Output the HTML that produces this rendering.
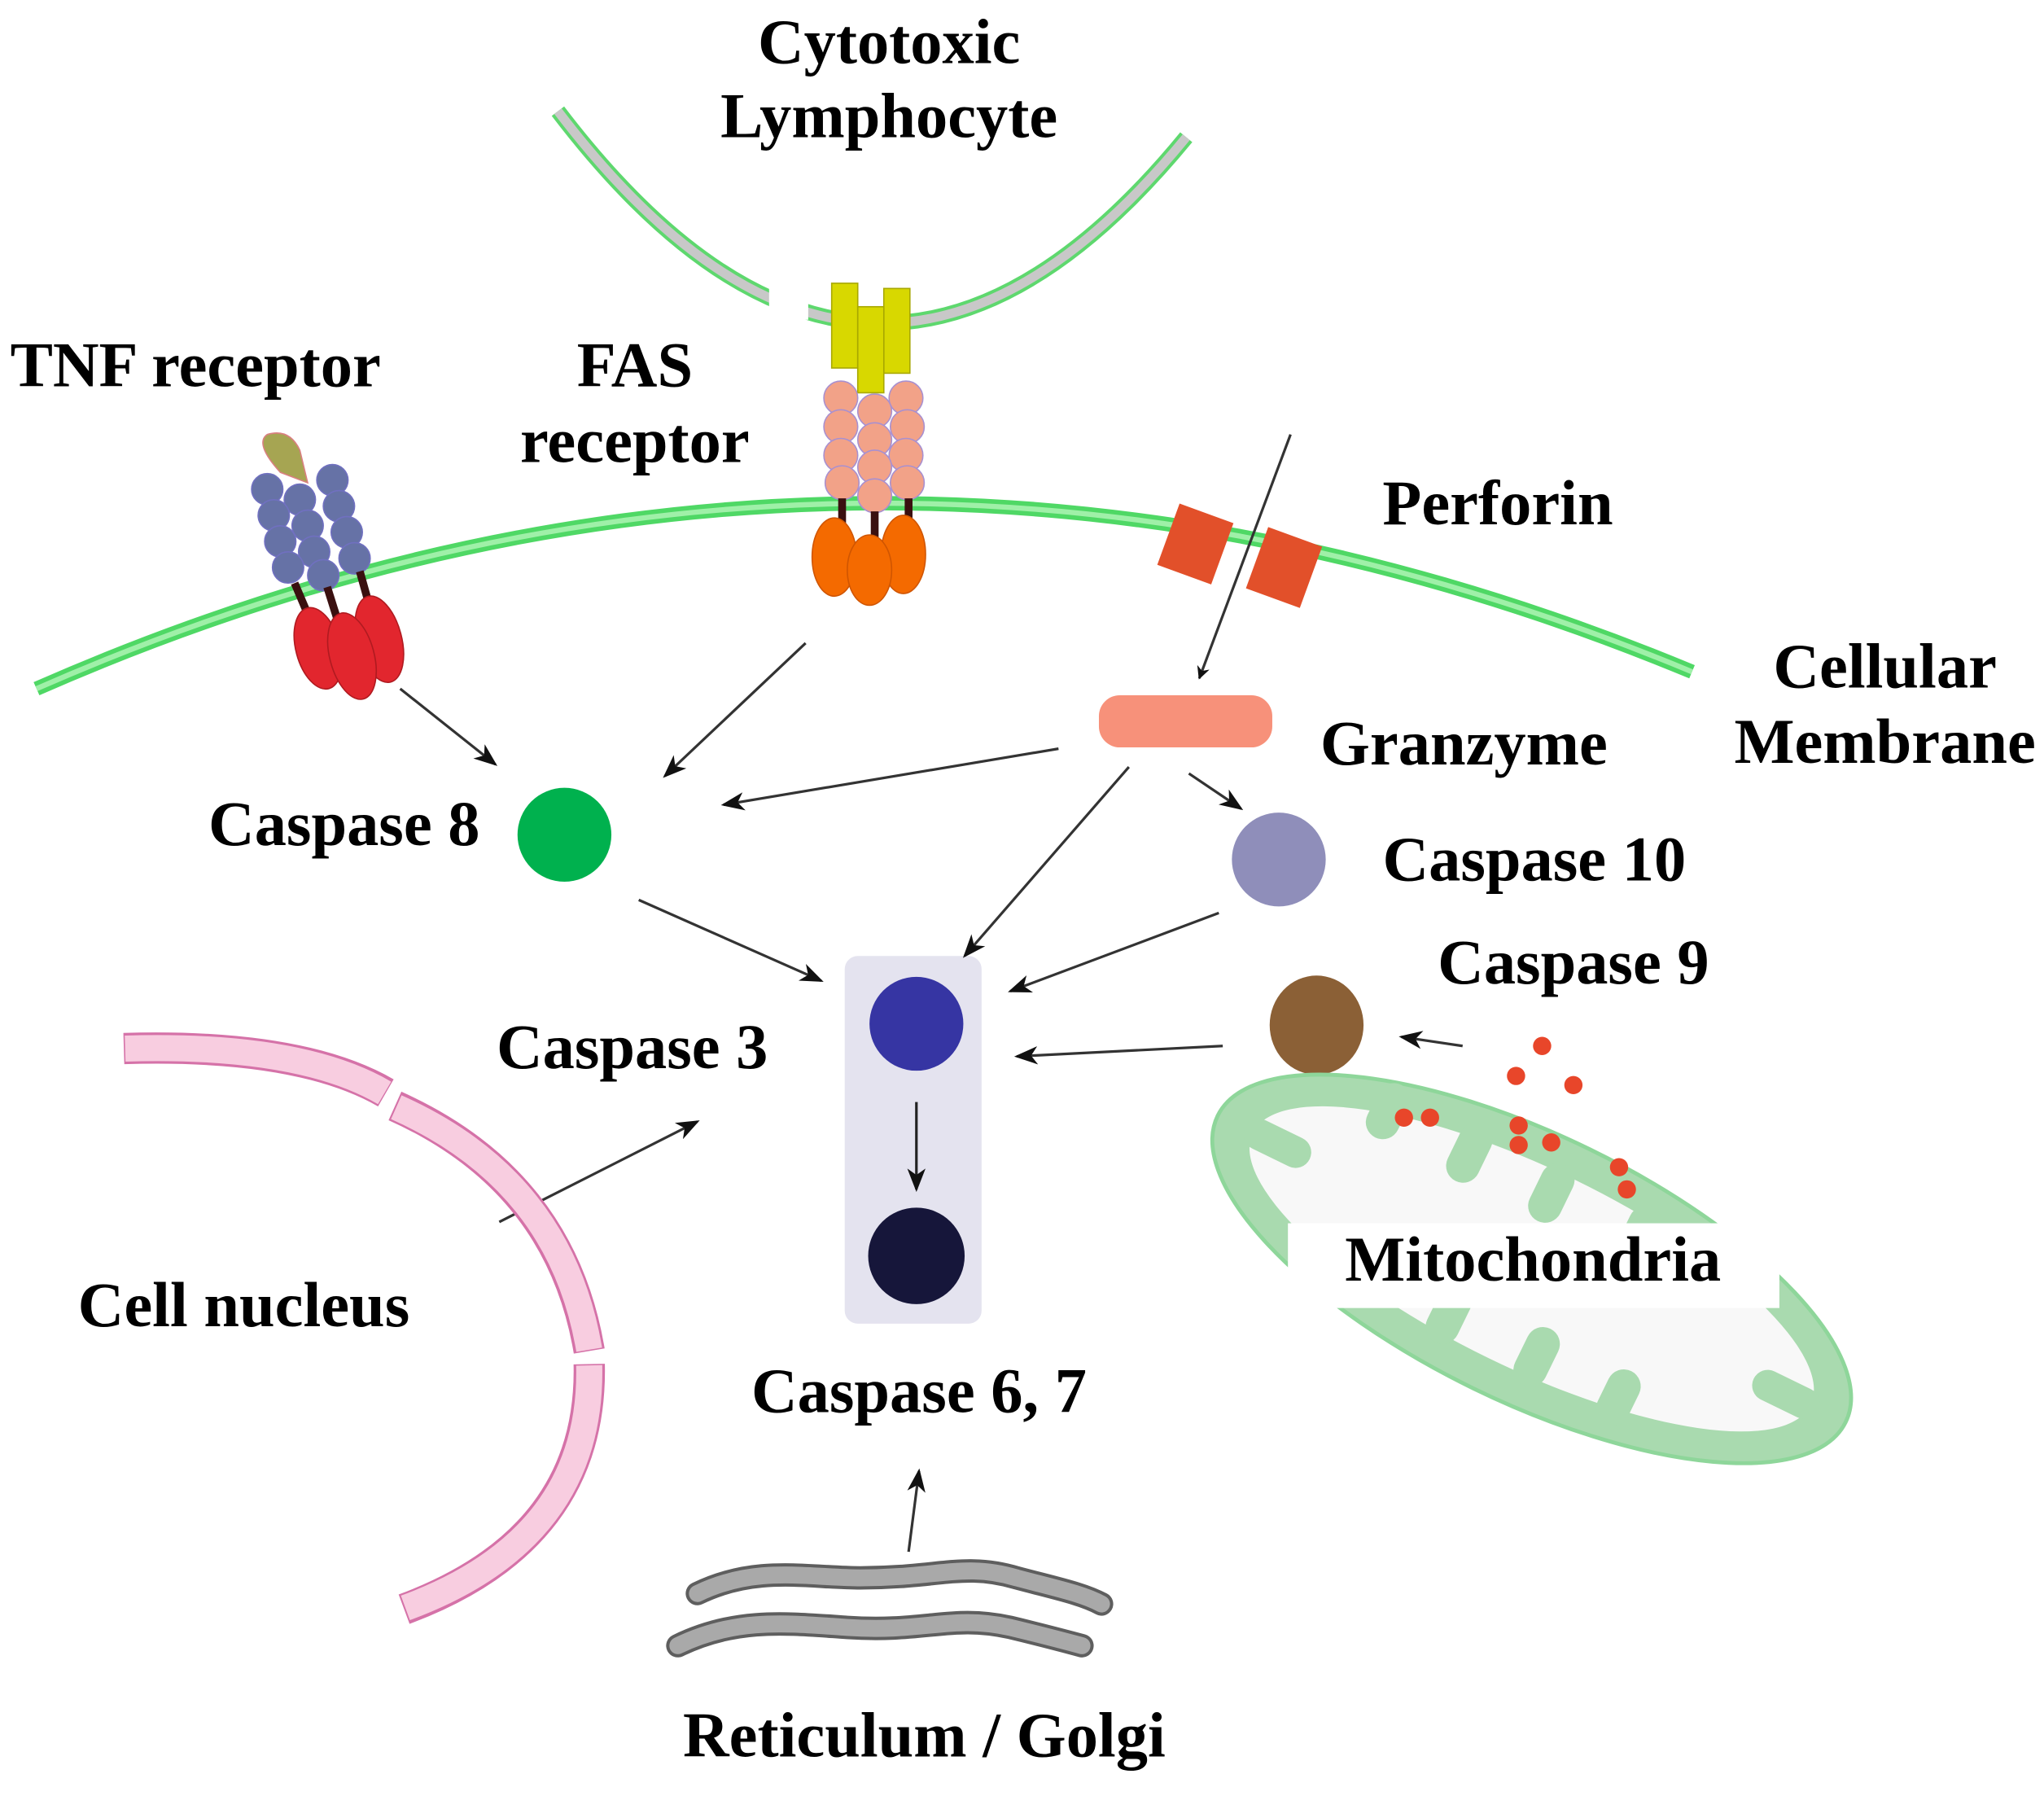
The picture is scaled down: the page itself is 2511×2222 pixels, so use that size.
<!DOCTYPE html>
<html><head><meta charset="utf-8"><style>
html,body{margin:0;padding:0;background:#fff;}
svg{display:block;}
text{font-family:"Liberation Serif",serif;font-weight:bold;fill:#000;}
</style></head><body>
<svg width="2511" height="2222" viewBox="0 0 1568 1387" xmlns="http://www.w3.org/2000/svg">
<defs>
<marker id="a" markerWidth="10" markerHeight="10" refX="9" refY="5" orient="auto" markerUnits="userSpaceOnUse">
<path d="M0,0 L10,5 L0,10 L3,5 Z" fill="#111"/></marker>
<marker id="b" markerWidth="18" markerHeight="14" refX="16" refY="7" orient="auto" markerUnits="userSpaceOnUse">
<path d="M0,0 L18,7 L0,14 L5,7 Z" fill="#111"/></marker>
</defs>
<rect width="1568" height="1387" fill="#fff"/>

<!-- lymphocyte -->
<path d="M428,85 Q668,400 910,105" fill="none" stroke="#5ed86e" stroke-width="12"/>
<path d="M428,85 Q668,400 910,105" fill="none" stroke="#c8c8c8" stroke-width="7"/>
<rect x="590" y="205" width="30" height="40" fill="#fff"/>

<!-- cell membrane -->
<path d="M28,528 Q660,250 1298,515" fill="none" stroke="#4fd865" stroke-width="11"/>
<path d="M28,528 Q660,250 1298,515" fill="none" stroke="#9ff0a8" stroke-width="4"/>

<!-- perforin -->
<rect x="895" y="392" width="44" height="50" fill="#e2502a" transform="rotate(20 917 417)"/>
<rect x="963" y="410" width="44" height="50" fill="#e2502a" transform="rotate(20 985 435)"/>
<line x1="990" y1="333" x2="920" y2="520" stroke="#333" stroke-width="2" marker-end="url(#a)"/>

<!-- TNF receptor -->
<g>
<path d="M215,362 Q195,340 205,333 Q222,328 230,345 L236,370 Z" fill="#a6a552" stroke="#d98080" stroke-width="1"/>
<g fill="#6672a6" stroke="#7070c0" stroke-width="1">
<circle cx="205" cy="375" r="12"/><circle cx="230" cy="383" r="12"/><circle cx="255" cy="368" r="12"/>
<circle cx="210" cy="395" r="12"/><circle cx="236" cy="403" r="12"/><circle cx="260" cy="388" r="12"/>
<circle cx="215" cy="415" r="12"/><circle cx="241" cy="423" r="12"/><circle cx="266" cy="408" r="12"/>
<circle cx="221" cy="435" r="12"/><circle cx="248" cy="441" r="12"/><circle cx="272" cy="428" r="12"/>
</g>
<g stroke="#3a1010" stroke-width="6"><line x1="226" y1="447" x2="240" y2="480"/><line x1="251" y1="450" x2="262" y2="485"/><line x1="276" y1="438" x2="285" y2="470"/></g>
<g fill="#e2262e" stroke="#b01a20" stroke-width="1">
<ellipse cx="291" cy="490" rx="17" ry="34" transform="rotate(-15 291 490)"/>
<ellipse cx="244" cy="497" rx="17" ry="32" transform="rotate(-15 244 497)"/>
<ellipse cx="270" cy="503" rx="17" ry="34" transform="rotate(-15 270 503)"/>
</g>
</g>

<!-- FAS receptor -->
<g>
<rect x="638" y="217" width="20" height="65" fill="#d8d800" stroke="#a8a800"/>
<rect x="678" y="221" width="20" height="65" fill="#d8d800" stroke="#a8a800"/>
<rect x="658" y="235" width="20" height="66" fill="#d8d800" stroke="#a8a800"/>
<g fill="#f2a288" stroke="#a890d0" stroke-width="1">
<circle cx="645" cy="305" r="13"/><circle cx="645" cy="327" r="13"/><circle cx="645" cy="349" r="13"/><circle cx="646" cy="370" r="13"/>
<circle cx="695" cy="305" r="13"/><circle cx="696" cy="327" r="13"/><circle cx="695" cy="349" r="13"/><circle cx="696" cy="370" r="13"/>
<circle cx="671" cy="315" r="13"/><circle cx="671" cy="337" r="13"/><circle cx="671" cy="358" r="13"/><circle cx="671" cy="380" r="13"/>
</g>
<g stroke="#3a1010" stroke-width="6"><line x1="646" y1="382" x2="646" y2="415"/><line x1="671" y1="392" x2="671" y2="420"/><line x1="697" y1="382" x2="697" y2="410"/></g>
<g fill="#f46a00" stroke="#d05500" stroke-width="1">
<ellipse cx="640" cy="427" rx="17" ry="30"/><ellipse cx="693" cy="425" rx="17" ry="30"/><ellipse cx="667" cy="437" rx="17" ry="27"/>
</g>
</g>

<!-- granzyme -->
<rect x="843" y="533" width="133" height="40" rx="16" fill="#f7917a"/>

<!-- caspases -->
<circle cx="433" cy="640" r="36" fill="#00b14e"/>
<circle cx="981" cy="659" r="36" fill="#8f8eba"/>
<ellipse cx="1010" cy="786" rx="36" ry="38" fill="#8b6036"/>
<rect x="648" y="733" width="105" height="282" rx="10" fill="#e4e3ef"/>
<circle cx="703" cy="785" r="36" fill="#3635a3"/>
<circle cx="703" cy="963" r="37" fill="#16163a"/>
<line x1="703" y1="845" x2="703" y2="912" stroke="#222" stroke-width="2" marker-end="url(#b)"/>

<!-- arrows -->
<g stroke="#333" stroke-width="2" fill="none">
<line x1="307" y1="528" x2="380" y2="586" marker-end="url(#b)"/>
<line x1="618" y1="493" x2="510" y2="595" marker-end="url(#b)"/>
<line x1="812" y1="574" x2="555" y2="617" marker-end="url(#b)"/>
<line x1="866" y1="588" x2="740" y2="733" marker-end="url(#b)"/>
<line x1="912" y1="593" x2="952" y2="620" marker-end="url(#b)"/>
<line x1="490" y1="690" x2="630" y2="752" marker-end="url(#b)"/>
<line x1="935" y1="700" x2="775" y2="760" marker-end="url(#b)"/>
<line x1="938" y1="802" x2="780" y2="810" marker-end="url(#b)"/>
<line x1="1122" y1="802" x2="1075" y2="795" marker-end="url(#b)"/>
<line x1="383" y1="937" x2="535" y2="860" marker-end="url(#b)"/>
<line x1="697" y1="1190" x2="705" y2="1128" marker-end="url(#b)"/>
</g>

<!-- nucleus -->
<g fill="none" stroke-linecap="butt">
<g stroke="#d572a8" stroke-width="24">
<path d="M95,804 Q230,800 296,838"/>
<path d="M303,848 Q430,905 452,1036"/>
<path d="M452,1046 Q455,1180 310,1234"/>
</g>
<g stroke="#f8cde0" stroke-width="20">
<path d="M96,804 Q230,800 295,838"/>
<path d="M304,849 Q430,905 452,1035"/>
<path d="M452,1047 Q455,1180 311,1233"/>
</g>
</g>

<!-- mitochondria -->
<g transform="rotate(26 1175 973)">
<ellipse cx="1175" cy="973" rx="268" ry="102" fill="#a9daaf" stroke="#8ed69a" stroke-width="3"/>
<ellipse cx="1175" cy="973" rx="238" ry="76" fill="#f8f8f8"/>
<g fill="#a9daaf">
<rect x="1010" y="890" width="26" height="45" rx="13"/><rect x="1080" y="890" width="26" height="48" rx="13"/>
<rect x="1150" y="890" width="26" height="48" rx="13"/><rect x="1225" y="890" width="26" height="45" rx="13"/>
<rect x="1050" y="1010" width="26" height="45" rx="13"/><rect x="1120" y="1008" width="26" height="48" rx="13"/>
<rect x="1195" y="1008" width="26" height="48" rx="13"/><rect x="1265" y="1010" width="26" height="45" rx="13"/>
<rect x="930" y="960" width="55" height="24" rx="12"/><rect x="1365" y="962" width="55" height="24" rx="12"/>
</g>
</g>
<rect x="988" y="938" width="377" height="65" fill="#fff"/>
<g fill="#e8462a">
<circle cx="1183" cy="802" r="7"/><circle cx="1163" cy="825" r="7"/><circle cx="1207" cy="832" r="7"/>
<circle cx="1077" cy="857" r="7"/><circle cx="1097" cy="857" r="7"/>
<circle cx="1165" cy="863" r="7"/><circle cx="1165" cy="878" r="7"/><circle cx="1190" cy="876" r="7"/>
<circle cx="1242" cy="895" r="7"/><circle cx="1248" cy="912" r="7"/>
</g>

<!-- golgi -->
<g fill="none" stroke-linecap="round">
<path d="M535,1222 C580,1200 620,1210 660,1210 C720,1210 740,1198 780,1210 C810,1218 830,1222 845,1230" stroke="#5e5e5e" stroke-width="18"/>
<path d="M535,1222 C580,1200 620,1210 660,1210 C720,1210 740,1198 780,1210 C810,1218 830,1222 845,1230" stroke="#a9a9a9" stroke-width="13"/>
<path d="M520,1262 C565,1240 605,1245 650,1248 C710,1252 730,1238 775,1248 C800,1254 815,1258 830,1262" stroke="#5e5e5e" stroke-width="18"/>
<path d="M520,1262 C565,1240 605,1245 650,1248 C710,1252 730,1238 775,1248 C800,1254 815,1258 830,1262" stroke="#a9a9a9" stroke-width="13"/>
</g>

<!-- labels -->
<g font-size="49">
<text x="682" y="48" text-anchor="middle">Cytotoxic</text>
<text x="682" y="105" text-anchor="middle">Lymphocyte</text>
<text x="150" y="296" text-anchor="middle">TNF receptor</text>
<text x="487" y="296" text-anchor="middle">FAS</text>
<text x="487" y="354" text-anchor="middle">receptor</text>
<text x="1149" y="402" text-anchor="middle">Perforin</text>
<text x="1446" y="527" text-anchor="middle">Cellular</text>
<text x="1446" y="585" text-anchor="middle">Membrane</text>
<text x="1123" y="586" text-anchor="middle">Granzyme</text>
<text x="264" y="648" text-anchor="middle">Caspase 8</text>
<text x="1177" y="675" text-anchor="middle">Caspase 10</text>
<text x="1207" y="754" text-anchor="middle">Caspase 9</text>
<text x="485" y="819" text-anchor="middle">Caspase 3</text>
<text x="187" y="1017" text-anchor="middle">Cell nucleus</text>
<text x="1176" y="982" text-anchor="middle">Mitochondria</text>
<text x="705" y="1083" text-anchor="middle">Caspase 6, 7</text>
<text x="709" y="1347" text-anchor="middle">Reticulum / Golgi</text>
</g>
</svg>
</body></html>
